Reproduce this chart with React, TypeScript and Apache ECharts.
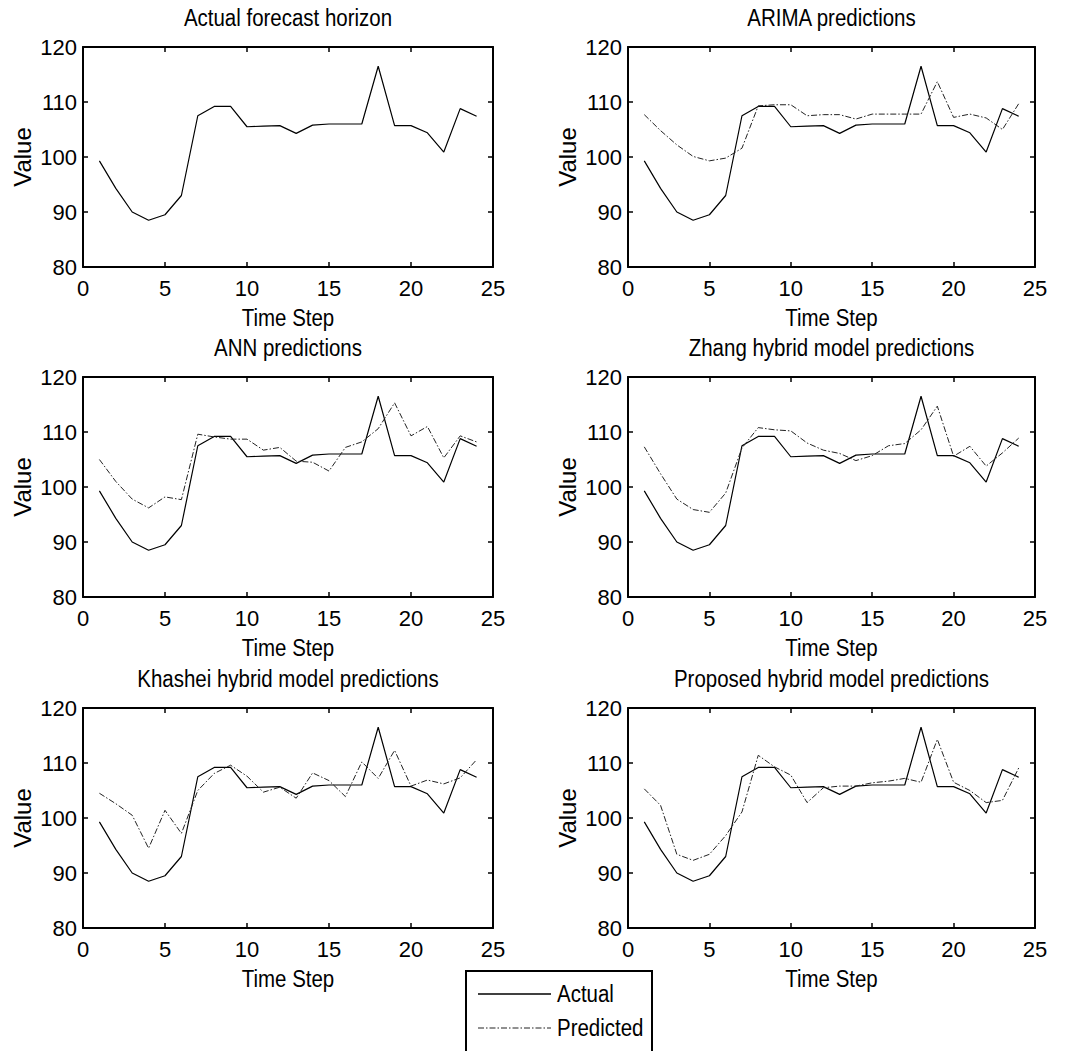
import React, { useEffect, useRef } from "react";
import * as echarts from "echarts";

const steps = [1, 2, 3, 4, 5, 6, 7, 8, 9, 10, 11, 12, 13, 14, 15, 16, 17, 18, 19, 20, 21, 22, 23, 24];

const actual = [99.3, 94.3, 90.0, 88.5, 89.5, 93.0, 107.5, 109.2, 109.2, 105.5, 105.6, 105.7, 104.3, 105.8, 106.0, 106.0, 106.0, 116.5, 105.7, 105.7, 104.4, 100.9, 108.8, 107.4];

const arimaPred = [107.7, 104.8, 102.2, 100.1, 99.3, 99.8, 101.6, 109.3, 109.5, 109.5, 107.5, 107.7, 107.7, 106.9, 107.8, 107.8, 107.8, 107.8, 113.7, 107.2, 107.8, 107.1, 105.0, 109.7];
const annPred = [105.0, 101.0, 97.8, 96.2, 98.2, 97.7, 109.6, 109.1, 108.7, 108.7, 106.7, 107.2, 104.7, 104.5, 102.9, 107.2, 108.2, 110.6, 115.3, 109.3, 111.0, 105.3, 109.3, 108.2];
const zhangPred = [107.3, 102.4, 97.8, 95.9, 95.4, 98.9, 107.1, 110.8, 110.4, 110.2, 108.0, 106.7, 106.1, 104.8, 105.7, 107.5, 107.9, 110.4, 114.7, 105.6, 107.4, 103.8, 106.2, 108.9];
const khasheiPred = [104.5, 102.6, 100.5, 94.5, 101.4, 97.2, 105.0, 108.1, 109.6, 107.6, 104.7, 105.6, 103.6, 108.2, 106.8, 103.9, 110.2, 107.2, 112.3, 105.8, 106.9, 106.2, 107.3, 110.6];
const proposedPred = [105.3, 102.3, 93.4, 92.3, 93.4, 96.8, 101.1, 111.4, 109.3, 107.8, 102.8, 105.5, 105.8, 105.8, 106.4, 106.7, 107.2, 106.5, 114.3, 106.5, 105.0, 102.8, 103.2, 109.1];

const panelTitles = [
  "Actual forecast horizon",
  "ARIMA predictions",
  "ANN predictions",
  "Zhang hybrid model predictions",
  "Khashei hybrid model predictions",
  "Proposed hybrid model predictions",
];
const panelPreds: (number[] | null)[] = [null, arimaPred, annPred, zhangPred, khasheiPred, proposedPred];

const xTicks = { min: 0, max: 25, interval: 5 };
const yTicks = { min: 80, max: 120, interval: 10 };
const xLabel = "Time Step";
const yLabel = "Value";
const legendNames = ["Actual", "Predicted"];

const FONT = '"Liberation Sans", Arial, Helvetica, sans-serif';
const DASHDOT = [6, 2, 1.5, 2];
const SX = 0.89;

export default function App() {
  const ref = useRef<HTMLDivElement>(null);
  useEffect(() => {
    if (!ref.current) return;
    const chart = echarts.init(ref.current, undefined, { renderer: "svg" });

    const colLeft = [83, 628];
    const colWidth = [410, 407];
    const rowTop = [47, 377, 708];
    const H = 220;

    const grids: any[] = [];
    const xAxes: any[] = [];
    const yAxes: any[] = [];
    const series: any[] = [];
    const graphics: any[] = [];

    const axisLine = { show: true, onZero: false, lineStyle: { color: "#000", width: 2 } };
    const tick = { show: true, inside: true, length: 5, lineStyle: { color: "#000", width: 1.5 } };

    panelTitles.forEach((title, i) => {
      const r = Math.floor(i / 2);
      const c = i % 2;
      const left = colLeft[c];
      const top = rowTop[r];
      const w = colWidth[c];
      grids.push({ left, top, width: w, height: H, containLabel: false });

      xAxes.push({
        type: "value", gridIndex: i, position: "bottom", ...xTicks,
        axisLine, axisTick: tick, splitLine: { show: false },
        axisLabel: { show: true, color: "#000", fontSize: 22, fontFamily: FONT, margin: 10 },
      });
      xAxes.push({
        type: "value", gridIndex: i, position: "top", ...xTicks,
        axisLine, axisTick: tick, splitLine: { show: false }, axisLabel: { show: false },
      });
      yAxes.push({
        type: "value", gridIndex: i, position: "left", ...yTicks,
        axisLine, axisTick: tick, splitLine: { show: false },
        axisLabel: { show: true, color: "#000", fontSize: 22, fontFamily: FONT, margin: 6 },
      });
      yAxes.push({
        type: "value", gridIndex: i, position: "right", ...yTicks,
        axisLine, axisTick: tick, splitLine: { show: false }, axisLabel: { show: false },
      });

      series.push({
        type: "line", name: legendNames[0], xAxisIndex: 2 * i, yAxisIndex: 2 * i,
        data: steps.map((t, k) => [t, actual[k]]),
        symbol: "none", showSymbol: false,
        lineStyle: { color: "#000", width: 1.2 },
      });
      const pred = panelPreds[i];
      if (pred) {
        series.push({
          type: "line", name: legendNames[1], xAxisIndex: 2 * i, yAxisIndex: 2 * i,
          data: steps.map((t, k) => [t, pred[k]]),
          symbol: "none", showSymbol: false,
          lineStyle: { color: "#222", width: 1, type: DASHDOT },
        });
      }

      const cx = left + w / 2;
      graphics.push({
        type: "text", x: cx, y: top - 29, scaleX: SX,
        style: { text: title, fontSize: 23, fontFamily: FONT, fill: "#000", align: "center", verticalAlign: "middle" },
      });
      graphics.push({
        type: "text", x: cx, y: top + H + 51, scaleX: SX,
        style: { text: xLabel, fontSize: 23, fontFamily: FONT, fill: "#000", align: "center", verticalAlign: "middle" },
      });
      graphics.push({
        type: "text", x: left - 61, y: top + H / 2, rotation: Math.PI / 2,
        style: { text: yLabel, fontSize: 24, fontFamily: FONT, fill: "#000", align: "center", verticalAlign: "middle" },
      });
    });

    // legend box
    graphics.push({
      type: "rect", z: 100,
      shape: { x: 466, y: 971, width: 186, height: 120 },
      style: { fill: "#fff", stroke: "#000", lineWidth: 2 },
    });
    graphics.push({
      type: "line", z: 101,
      shape: { x1: 478, y1: 994, x2: 551, y2: 994 },
      style: { stroke: "#000", lineWidth: 1.5 },
    });
    graphics.push({
      type: "line", z: 101,
      shape: { x1: 478, y1: 1028, x2: 551, y2: 1028 },
      style: { stroke: "#222", lineWidth: 1, lineDash: DASHDOT },
    });
    graphics.push({
      type: "text", z: 101, x: 557, y: 994, scaleX: SX,
      style: { text: legendNames[0], fontSize: 23, fontFamily: FONT, fill: "#000", align: "left", verticalAlign: "middle" },
    });
    graphics.push({
      type: "text", z: 101, x: 557, y: 1028, scaleX: SX,
      style: { text: legendNames[1], fontSize: 23, fontFamily: FONT, fill: "#000", align: "left", verticalAlign: "middle" },
    });

    chart.setOption({
      animation: false,
      backgroundColor: "#fff",
      grid: grids,
      xAxis: xAxes,
      yAxis: yAxes,
      series,
      graphic: graphics,
    });
    return () => chart.dispose();
  }, []);
  return <div ref={ref} style={{ position: "absolute", left: 0, top: 0, width: 1065, height: 1051 }} />;
}
